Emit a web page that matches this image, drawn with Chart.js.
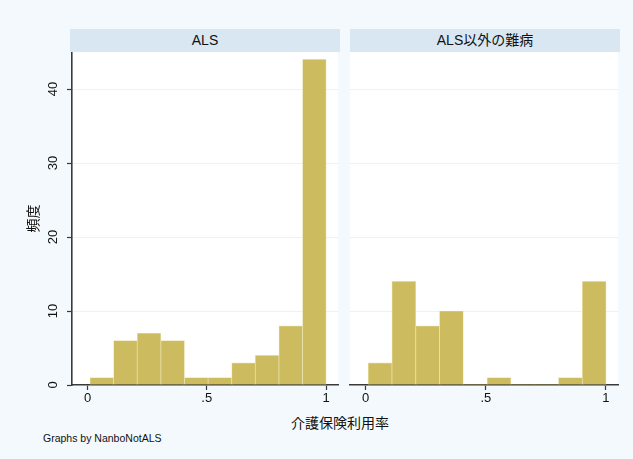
<!DOCTYPE html>
<html>
<head>
<meta charset="utf-8">
<script src="https://cdn.jsdelivr.net/npm/chart.js@4"></script>
<style>
  html, body { margin: 0; padding: 0; }
  body { width: 633px; height: 459px; background: #f3f9fc; position: relative; overflow: hidden;
         font-family: "Liberation Sans", Arial, "Noto Sans CJK JP", sans-serif; color: #111; }
  .strip { position: absolute; top: 29px; height: 23px; background: #d9e7f3; text-align: center;
           line-height: 23px; font-size: 14px; font-family: "Liberation Sans", "Noto Sans CJK JP", sans-serif; }
  .box { position: absolute; }
  #xtitle { position: absolute; top: 412px; left: 240px; width: 200px; text-align: center;
            font-size: 14px; font-family: "Noto Sans CJK JP", sans-serif; }
  #note { position: absolute; top: 432px; left: 43px; font-size: 10.5px; }
</style>
</head>
<body>
<div class="strip" style="left:70px;width:270px">ALS</div>
<div class="strip" style="left:350px;width:270px">ALS以外の難病</div>
<div class="box" style="left:0;top:52px;width:340px;height:360px"><canvas id="chartLeft"></canvas></div>
<div class="box" style="left:340px;top:52px;width:293px;height:360px"><canvas id="chartRight"></canvas></div>
<div id="xtitle">介護保険利用率</div>
<div id="note">Graphs by NanboNotALS</div>
<script>
// bin midpoints (介護保険利用率), width ~0.099
var binMids = [0.06, 0.159, 0.258, 0.357, 0.456, 0.555, 0.654, 0.753, 0.852, 0.951];
// 頻度
var countsALS = [1, 6, 7, 6, 1, 1, 3, 4, 8, 44];
var countsOther = [3, 14, 8, 10, 0, 1, 0, 0, 1, 14];
var xTicks = [0, 0.5, 1];
var xTickLabels = ['0', '.5', '1'];
var yTicks = [0, 10, 20, 30, 40];

var barColor = '#cdbc5f';
var axisColor = '#3a3a3a';

// white plot region
var plotBg = {
    id: 'plotBg',
    beforeDraw: function (chart) {
        var a = chart.chartArea;
        var ctx = chart.ctx;
        ctx.save();
        ctx.fillStyle = '#ffffff';
        ctx.fillRect(a.left, a.top, a.right - a.left, a.bottom - a.top);
        ctx.restore();
    }
};

// rotated y tick labels + y title, like the original
var yLabels = {
    id: 'yLabels',
    afterDraw: function (chart) {
        if (chart.canvas.id !== 'chartLeft') return;
        var ctx = chart.ctx;
        var y = chart.scales.y;
        ctx.save();
        ctx.fillStyle = '#111';
        ctx.font = '13px "Liberation Sans", Arial, sans-serif';
        ctx.textAlign = 'center';
        ctx.textBaseline = 'middle';
        yTicks.forEach(function (v) {
            ctx.save();
            ctx.translate(53, y.getPixelForValue(v));
            ctx.rotate(-Math.PI / 2);
            ctx.fillText(String(v), 0, 0);
            ctx.restore();
        });
        ctx.font = '14px "Noto Sans CJK JP", sans-serif';
        ctx.translate(33, (chart.chartArea.top + chart.chartArea.bottom) / 2);
        ctx.rotate(-Math.PI / 2);
        ctx.fillText('頻度', 0, 0);
        ctx.restore();
    }
};

function makeChart(id, counts, yWidth, padRight, showYAxis) {
    var ctx = document.getElementById(id).getContext('2d');
    var points = [];
    for (var i = 0; i < binMids.length; i++) {
        points.push({ x: binMids[i], y: counts[i] });
    }
    return new Chart(ctx, {
        type: 'bar',
        data: {
            datasets: [{
                data: points,
                backgroundColor: barColor,
                borderColor: '#ebe3ae',
                borderWidth: function (c) { return c.raw && c.raw.y ? 0.7 : 0; },
                borderSkipped: 'bottom',
                barPercentage: 1,
                categoryPercentage: 1
            }]
        },
        options: {
            responsive: true,
            maintainAspectRatio: false,
            animation: false,
            layout: { padding: { top: 0, right: padRight, left: 0, bottom: 0 } },
            plugins: { legend: { display: false }, tooltip: { enabled: false } },
            scales: {
                x: {
                    type: 'linear',
                    offset: false,
                    min: -0.065,
                    max: 1.05,
                    afterBuildTicks: function (s) { s.ticks = xTicks.map(function (v) { return { value: v }; }); },
                    afterFit: function (s) { s.height = 27; },
                    border: { display: true, color: axisColor, width: 1.6 },
                    grid: { display: true, offset: false, drawOnChartArea: false, tickLength: 5, tickColor: axisColor, tickWidth: 1.2 },
                    ticks: {
                        autoSkip: false,
                        maxRotation: 0,
                        padding: 1,
                        color: '#111',
                        font: { family: '"Liberation Sans", Arial, sans-serif', size: 13 },
                        callback: function (v) { return xTickLabels[xTicks.indexOf(v)]; }
                    }
                },
                y: {
                    min: 0,
                    max: 45,
                    afterBuildTicks: function (s) { s.ticks = yTicks.map(function (v) { return { value: v }; }); },
                    afterFit: function (s) { s.width = yWidth; },
                    border: { display: showYAxis, color: axisColor, width: 1.6 },
                    grid: {
                        color: function (c) { return c.tick && c.tick.value === 0 ? 'rgba(0,0,0,0)' : '#edf2f4'; },
                        drawTicks: showYAxis,
                        tickLength: 5,
                        tickColor: axisColor,
                        tickWidth: 1.2
                    },
                    ticks: { display: false }
                }
            }
        },
        plugins: [plotBg, yLabels]
    });
}

makeChart('chartLeft', countsALS, 72, 2, true);
makeChart('chartRight', countsOther, 10, 15, false);
</script>
</body>
</html>
